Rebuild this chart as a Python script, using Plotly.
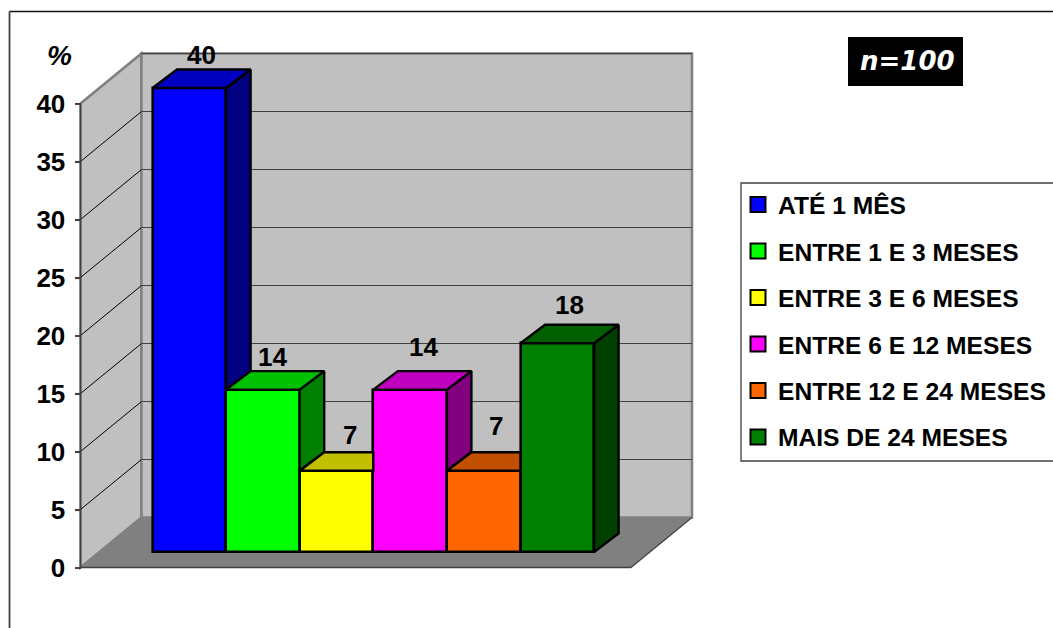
import plotly.graph_objects as go

categories = ["ATÉ 1 MÊS", "ENTRE 1 E 3 MESES", "ENTRE 3 E 6 MESES",
              "ENTRE 6 E 12 MESES", "ENTRE 12 E 24 MESES", "MAIS DE 24 MESES"]
values = [40, 14, 7, 14, 7, 18]
y_ticks = [0, 5, 10, 15, 20, 25, 30, 35, 40]
front_colors = ["#0000FF", "#00FF00", "#FFFF00", "#FF00FF", "#FF6600", "#008000"]
top_colors = ["#0000C0", "#00C000", "#C0C000", "#C000C0", "#C04F00", "#006000"]
side_colors = ["#000080", "#008000", "#808000", "#800080", "#803300", "#004000"]
label_dx = [12, 10, 13, 13, 12, 12]
label_dy = [33, 33, 36, 43, 45, 38]

W, H = 1053, 628
PX = 11.6               # pixels per percent unit
Y0_AXIS, Y0_BAR = 567.5, 552.0
X_SIDE, WALL_DX, WALL_DY = 80.5, 61.0, 50.0 / PX
BAR_X0, BAR_W = 152.5, 73.6
BAR_DX, BAR_DY = 24.5, 18.5 / PX
LINE = "#000000"
FONT = "Liberation Sans"

fig = go.Figure()
x_left = [BAR_X0 + i * BAR_W for i in range(len(values))]
x_mid = [x + BAR_W / 2 for x in x_left]

fig.add_trace(go.Bar(x=x_mid, y=values, width=BAR_W, yaxis="y2", showlegend=False,
                     marker=dict(color=front_colors, line=dict(color=LINE, width=2.6)),
                     hoverinfo="skip"))

def face(xs, ys, color):
    fig.add_trace(go.Scatter(x=xs, y=ys, yaxis="y2", mode="lines", fill="toself", fillcolor=color,
                             line=dict(color=LINE, width=2.4), showlegend=False, hoverinfo="skip"))

for i, v in enumerate(values):
    nxt = values[i + 1] if i + 1 < len(values) else 0
    xl, xr = x_left[i], x_left[i] + BAR_W
    if nxt < v:
        face([xr, xr + BAR_DX, xr + BAR_DX, xr, xr],
             [v, v + BAR_DY, nxt + BAR_DY, nxt, v], side_colors[i])
        top_x = [xl, xr, xr + BAR_DX, xl + BAR_DX, xl]
    else:
        top_x = [xl, xr, xr, xl + BAR_DX, xl]
    face(top_x, [v, v, v + BAR_DY, v + BAR_DY, v], top_colors[i])

for name, c in zip(categories, front_colors):
    fig.add_trace(go.Scatter(x=[None], y=[None], mode="markers", name=name, legendgroup=name,
                             marker=dict(symbol="square", size=15, color=c, line=dict(color=LINE, width=2))))

xb = X_SIDE + WALL_DX
xe = 692.0
xf = xe - WALL_DX
vmax = y_ticks[-1]
shapes = [
    dict(type="path", layer="below", xref="x", yref="y", fillcolor="#C0C0C0", line=dict(color="#808080", width=2.5),
         path=f"M{X_SIDE},{vmax} L{xb},{vmax + WALL_DY} L{xb},{WALL_DY} L{X_SIDE},0 Z"),
    dict(type="path", layer="below", xref="x", yref="y", fillcolor="#C0C0C0", line=dict(color="#808080", width=2.5),
         path=f"M{xb},{vmax + WALL_DY} L{xe},{vmax + WALL_DY} L{xe},{WALL_DY} L{xb},{WALL_DY} Z"),
]
for t in y_ticks[:-1]:
    if t == 0:
        continue
    shapes.append(dict(type="line", layer="below", xref="x", yref="y", x0=X_SIDE, x1=xb, y0=t, y1=t + WALL_DY,
                       line=dict(color="#000000", width=1)))
for t in y_ticks[1:]:
    shapes.append(dict(type="line", layer="below", xref="x", yref="y", x0=xb, x1=xe, y0=t + WALL_DY, y1=t + WALL_DY,
                       line=dict(color="#404040", width=1.2)))
shapes += [
    dict(type="path", layer="below", xref="x", yref="y", fillcolor="#808080", line=dict(width=0),
         path=f"M{X_SIDE},0 L{xb},{WALL_DY} L{xe},{WALL_DY} L{xf},0 Z"),
    dict(type="line", layer="below", xref="x", yref="y", x0=X_SIDE, x1=xf, y0=0, y1=0, line=dict(color="#404040", width=1.5)),
    dict(type="line", layer="below", xref="x", yref="y", x0=xf, x1=xe, y0=0, y1=WALL_DY, line=dict(color="#404040", width=1.2)),
    dict(type="line", layer="below", xref="x", yref="y", x0=X_SIDE, x1=X_SIDE, y0=0, y1=vmax, line=dict(color="#404040", width=1.5)),
    dict(type="line", xref="x", yref="paper", x0=9.5, x1=W, y0=1 - 11.5 / H, y1=1 - 11.5 / H, line=dict(color="#111111", width=1.5)),
    dict(type="line", xref="x", yref="paper", x0=9.5, x1=9.5, y0=0, y1=1 - 11.5 / H, line=dict(color="#404040", width=1.8)),
    dict(type="rect", layer="below", xref="x", yref="paper", x0=741, x1=W + 5, y0=1 - 461 / H, y1=1 - 183 / H,
         fillcolor="#FFFFFF", line=dict(color="#404040", width=1.3)),
]

annotations = []
for i, v in enumerate(values):
    annotations.append(dict(x=x_mid[i] + label_dx[i], y=v, yref="y2", xref="x", yshift=label_dy[i], text=str(v),
                            showarrow=False, xanchor="center", yanchor="middle",
                            font=dict(family=FONT, size=26, color="#000000", weight="bold")))
annotations.append(dict(x=59, y=1 - 55 / H, xref="x", yref="paper", text="%", showarrow=False,
                        xanchor="center", yanchor="middle",
                        font=dict(family=FONT, size=28, color="#000000", weight="bold", style="italic")))
annotations.append(dict(x=907, y=1 - 61.5 / H, xref="x", yref="paper", text="n=100", showarrow=False,
                        xanchor="center", yanchor="middle",
                        font=dict(family="DejaVu Sans", size=26, color="#FFFFFF", weight="bold", style="italic")))
shapes.append(dict(type="rect", layer="below", xref="x", yref="paper", x0=848, x1=963, y0=1 - 86 / H, y1=1 - 37 / H,
                   fillcolor="#000000", line=dict(width=0)))

fig.update_layout(
    width=W, height=H, margin=dict(l=0, r=0, t=0, b=0), paper_bgcolor="#FFFFFF", plot_bgcolor="#FFFFFF",
    xaxis=dict(range=[0, W], domain=[0, 1], visible=False, fixedrange=True),
    yaxis=dict(range=[-(H - Y0_AXIS) / PX, Y0_AXIS / PX], domain=[0, 1], anchor="free", position=X_SIDE / W,
               tickmode="array", tickvals=y_ticks, ticktext=[str(t) for t in y_ticks], ticks="outside", ticklen=6,
               tickwidth=1.5, tickcolor="#404040", showgrid=False, zeroline=False, showline=False, fixedrange=True,
               ticklabelstandoff=4, tickfont=dict(family=FONT, size=26, color="#000000", weight="bold")),
    yaxis2=dict(range=[-(H - Y0_BAR) / PX, Y0_BAR / PX], overlaying="y", visible=False, fixedrange=True),
    showlegend=True,
    legend=dict(x=738 / W, xanchor="left", y=1 - 182 / H, yanchor="top",
                tracegroupgap=11.5, borderwidth=0, bgcolor="rgba(0,0,0,0)", traceorder="grouped",
                font=dict(family=FONT, size=24.6, color="#000000", weight="bold")),
    shapes=shapes, annotations=annotations, bargap=0,
)
fig.write_html("out.html", config={"displayModeBar": False}, post_script="document.body.style.margin='0';")
